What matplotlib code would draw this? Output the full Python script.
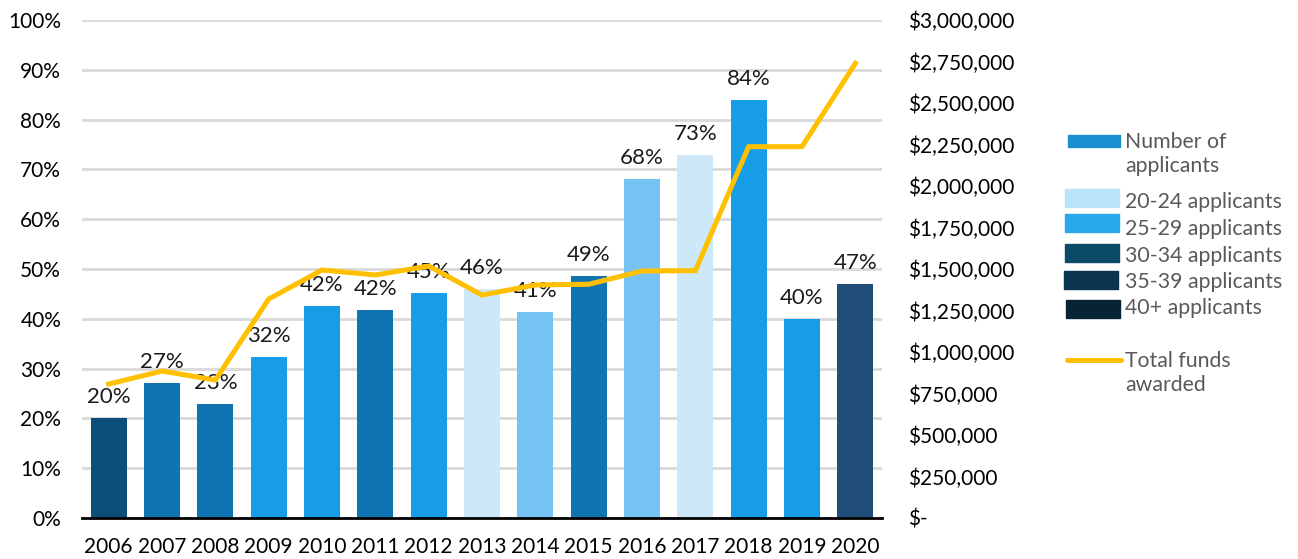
import matplotlib
matplotlib.use("Agg")
import matplotlib.pyplot as plt
from matplotlib.patches import Rectangle
from matplotlib.lines import Line2D
from matplotlib.ticker import FuncFormatter

plt.rcParams['font.family'] = ['Lato', 'DejaVu Sans']

years = ["2006", "2007", "2008", "2009", "2010", "2011", "2012", "2013",
         "2014", "2015", "2016", "2017", "2018", "2019", "2020"]
pct = [20.1, 27.1, 22.9, 32.3, 42.6, 41.8, 45.2, 46.0, 41.4, 48.6, 68.1, 72.8, 83.9, 40.0, 47.0]
pct_labels = ["20%", "27%", "23%", "32%", "42%", "42%", "45%", "46%", "41%", "49%",
              "68%", "73%", "84%", "40%", "47%"]
funds = [807000, 885000, 831000, 1319000, 1494000, 1464000, 1518000, 1343000,
         1404000, 1408000, 1488000, 1490000, 2237000, 2237000, 2739000]
bar_colors = ["#0B4F79", "#1074B0", "#1074B0", "#179CE8", "#179CE8", "#1074B0", "#179CE8",
              "#CDE8F9", "#74C3F3", "#1074B0", "#74C3F3", "#CDE8F9", "#179CE8", "#179CE8", "#204E78"]
legend_labels = ["Number of\napplicants", "20-24 applicants", "25-29 applicants",
                 "30-34 applicants", "35-39 applicants", "40+ applicants"]
legend_colors = ["#1A8FD0", "#B9E3F9", "#29A9EA", "#0C4A6A", "#0B3450", "#072435"]
line_label = "Total funds\nawarded"

W, H = 1298, 559
fig = plt.figure(figsize=(W / 100, H / 100), dpi=100)
ax = fig.add_axes([82 / W, (H - 518) / H, 800 / W, 498 / H])
ax2 = ax.twinx()

x = list(range(len(years)))
ax.bar(x, pct, width=0.675, color=bar_colors, zorder=2)
for xi, v, lab in zip(x, pct, pct_labels):
    ax.annotate(lab, (xi, v), xytext=(0, 8), textcoords="offset points",
                ha="center", va="bottom", fontsize=16, color="#1a1a1a")

ax.set_xlim(-0.5, len(years) - 0.5)
ax.set_ylim(0, 100)
ax.set_yticks(range(0, 101, 10))
ax.yaxis.set_major_formatter(FuncFormatter(lambda v, p: f"{int(v)}%"))
ax.set_xticks(x)
ax.set_xticklabels(years)
ax.grid(axis="y", color="#D9D9D9", linewidth=2, zorder=0)
ax.set_axisbelow(True)
for s in ["top", "right", "left"]:
    ax.spines[s].set_visible(False)
ax.spines["bottom"].set_color("black")
ax.spines["bottom"].set_linewidth(2)
ax.tick_params(axis="both", length=0, labelsize=15, colors="black")
ax.tick_params(axis="y", pad=15)
ax.tick_params(axis="x", pad=14)

ax2.plot(x, funds, color="#FFC000", linewidth=3.6, solid_joinstyle="miter", zorder=3)
ax2.set_ylim(0, 3000000)
ax2.set_yticks(range(0, 3000001, 250000))
ax2.yaxis.set_major_formatter(FuncFormatter(lambda v, p: "$-" if v == 0 else f"${int(v):,}"))
for s in ["top", "right", "left", "bottom"]:
    ax2.spines[s].set_visible(False)
ax2.tick_params(axis="y", length=0, labelsize=15, colors="black", pad=19)

# legend drawn manually in figure pixel coordinates
def fx(px):
    return px / W

def fy(py):
    return (H - py) / H

patch_boxes = [(1068, 135, 52, 12), (1065, 189, 54, 18), (1065, 214, 54, 18),
               (1065, 244, 54, 18), (1064, 271, 54, 18), (1066, 300, 54, 18)]
text_pos = [(1125, 154), (1125, 202), (1125, 229), (1125, 256), (1125, 282), (1125, 308)]
for (px, py, pw, ph), col, lab, (tx, ty) in zip(patch_boxes, legend_colors, legend_labels, text_pos):
    fig.patches.append(Rectangle((fx(px), fy(py + ph)), pw / W, ph / H,
                                 transform=fig.transFigure, color=col))
    fig.text(fx(tx), fy(ty), lab, ha="left", va="center", fontsize=15.3,
             color="#595959", linespacing=1.25)
fig.add_artist(Line2D([fx(1067), fx(1121)], [fy(360), fy(360)], transform=fig.transFigure,
                      color="#FFC000", linewidth=3.6, solid_capstyle="round"))
fig.text(fx(1125), fy(373), line_label, ha="left", va="center", fontsize=15.3,
         color="#595959", linespacing=1.25)

fig.savefig("out.png", dpi=100)
